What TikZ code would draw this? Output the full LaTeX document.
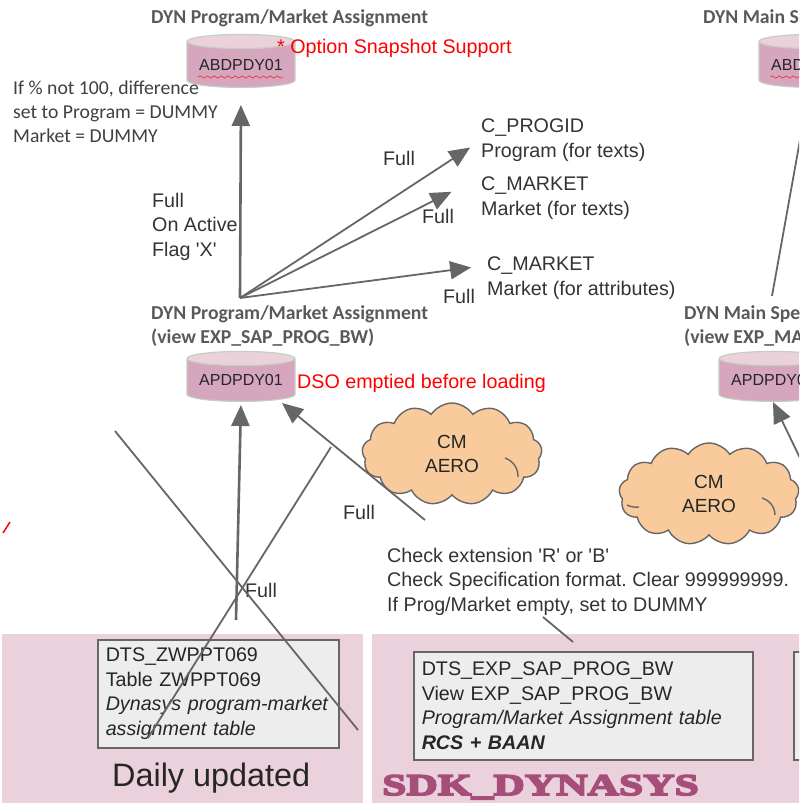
\documentclass[tikz,border=0pt]{standalone}
\usepackage{fontspec}
\setmainfont{Liberation Sans}
\newfontfamily\headfont{Carlito}
\newfontfamily\sdkfont[FakeStretch=1.45,FakeBold=6]{Liberation Serif}
\usetikzlibrary{arrows.meta,shapes.geometric,shapes.symbols,decorations.pathmorphing}
\definecolor{bandpink}{HTML}{EAD1DC}
\definecolor{cylbody}{HTML}{D5A6BD}
\definecolor{cyledge}{HTML}{C4CFC0}
\definecolor{cloudfill}{HTML}{F9CB9C}
\definecolor{linegray}{HTML}{666666}
\definecolor{sdkpink}{HTML}{A64D79}
\begin{document}
\begin{tikzpicture}[
  x=1pt, y=-1pt,
  txt/.style={anchor=north west, inner sep=0pt, align=left, text=black!80, font=\fontsize{19.7}{24.5}\selectfont},
  head/.style={anchor=north west, inner sep=0pt, align=left, text=black!65, font=\headfont\bfseries\fontsize{19.7}{24}\selectfont},
  note/.style={anchor=north west, inner sep=0pt, align=left, text=black!75, font=\headfont\fontsize{19.7}{24}\selectfont},
  redtxt/.style={anchor=north west, inner sep=0pt, text=red, font=\fontsize{19.7}{24}\selectfont},
  db/.style={cylinder, shape border rotate=90, anchor=south, aspect=0.17, draw=cyledge, line width=1.2pt, minimum width=108pt, minimum height=#1, inner sep=0pt, cylinder uses custom fill, cylinder body fill=cylbody, cylinder end fill=bandpink, font=\fontsize{16}{18}\selectfont, text=black!85},
  band/.style={fill=bandpink, draw=none, inner sep=0pt, anchor=north west},
  srcbox/.style={anchor=north west, draw=linegray, line width=1.5pt, fill=black!7, inner xsep=8pt, inner ysep=0pt, text width=#1, minimum height=108pt, align=left, text=black!85, font=\fontsize{19.7}{24.5}\selectfont},
  blob/.style={cloud, cloud puffs=13, cloud puff arc=115, aspect=1.8, draw=linegray, line width=1.4pt, fill=cloudfill, inner sep=0pt, minimum width=180pt, minimum height=102pt, align=center, text=black!85, font=\fontsize{19}{23.5}\selectfont},
  flow/.style={-{Triangle[length=21pt,width=18pt]}, draw=linegray, line width=1.8pt},
  plain/.style={draw=linegray, line width=1.8pt},
  puffline/.style={draw=linegray, line width=1.4pt}
]
\useasboundingbox (0,0) rectangle (804,803);
\clip (0,0) rectangle (799,803);

% Source bands
\node[band, minimum width=361pt, minimum height=169pt] (bandleft) at (2,634) {};
\node[band, minimum width=440pt, minimum height=169pt] (bandright) at (372,634) {};

% Databases
\node[db=53pt] (abd) at (241,88) {ABDPDY01};
\node[db=53pt] (abdmain) at (813,88) {ABDPDY01};
\node[db=50pt] (apd) at (241,402) {APDPDY01};
\node[db=50pt] (apdmain) at (773,402) {APDPDY01};
\draw[red, decorate, decoration={snake, amplitude=1.2pt, segment length=7pt}] (198,77) -- (283,77);
\draw[red, decorate, decoration={snake, amplitude=1.2pt, segment length=7pt}] (770,77) -- (803,77);

% Headings
\node[head] (headabd) at (151,9) {DYN Program/Market Assignment};
\node[head] (headmain) at (703,9) {DYN Main Spe};
\node[head] (headapd) at (151,305) {DYN Program/Market Assignment\\(view EXP\_SAP\_PROG\_BW)};
\node[head] (headapdmain) at (684,305) {DYN Main Spe\\(view EXP\_MA};

% Remarks
\node[redtxt] (snapshot) at (277,39) {* Option Snapshot Support};
\node[redtxt] (emptied) at (297,374) {DSO emptied before loading};
\node[note] (dummy) at (13,81) {If \% not 100, difference\\set to Program = DUMMY\\Market = DUMMY};
\node[txt] (active) at (152,193) {Full\\On Active\\Flag \textquotesingle X\textquotesingle};

% Targets
\node[txt] (progid) at (481,119) {C\_PROGID\\Program (for texts)};
\node[txt] (mkttext) at (481,177) {C\_MARKET\\Market (for texts)};
\node[txt] (mktattr) at (487,257) {C\_MARKET\\Market (for attributes)};

% Full labels
\node[txt] (fulla) at (383,151) {Full};
\node[txt] (fullb) at (422,209) {Full};
\node[txt] (fullc) at (443,289) {Full};
\node[txt] (fulld) at (343,505) {Full};
\node[txt] (fulle) at (245,583) {Full};

% Clouds
\node[blob] (aeroa) at (452,454) {CM\\AERO};
\node[blob] (aerob) at (709,494) {CM\\AERO};
\draw[puffline] (505,458) to[bend left=35] (518,477);
\draw[puffline] (762,498) to[bend left=35] (775,515);
\draw[puffline] (627,505) to[bend right=15] (639,507);

% Checks
\node[txt] (checks) at (387,548) {Check extension \textquotesingle R\textquotesingle{} or \textquotesingle B\textquotesingle\\Check Specification format.\ Clear 999999999.\\If Prog/Market empty, set to DUMMY};

% Source tables
\node[srcbox=225pt] (zwp) at (97,639) {DTS\_ZWPPT069\\Table ZWPPT069\\\textit{Dynasys program-market}\\\textit{assignment table}};
\node[srcbox=323pt] (exp) at (413,651) {DTS\_EXP\_SAP\_PROG\_BW\\View EXP\_SAP\_PROG\_BW\\\textit{Program/Market Assignment table}\\\textbf{\textit{RCS + BAAN}}};
\node[srcbox=80pt] (nextbox) at (793,651) {};
\node[anchor=base west, inner sep=0pt, text=black!85, font=\fontsize{32.4}{36}\selectfont] (daily) at (112,786) {Daily updated};
\node[anchor=base west, inner sep=0pt, text=sdkpink, font=\sdkfont\bfseries\fontsize{30}{32}\selectfont] (sdk) at (382,795) {SDK\_DYNASYS};

% Free ends
\coordinate (hubtop) at (240,298);
\coordinate (hublow) at (236,620);
\coordinate (crossa) at (115,431);
\coordinate (crossb) at (358,730);
\coordinate (forka) at (331,447);
\coordinate (forkb) at (148,738);
\coordinate (stuba) at (425,520);
\coordinate (stubb) at (543,617);
\coordinate (stubc) at (573,642);
\coordinate (maintop) at (772,296);
\coordinate (mainup) at (800,140);
\coordinate (mainlow) at (800,458);
\coordinate (tipapd) at (282,403);

% Arrows
\draw[flow, line width=2.6pt, shorten >=17pt] (hubtop) -- (abd.south);
\draw[flow, shorten >=13pt] (hubtop) -- (progid.west);
\draw[flow, shorten >=33pt] (hubtop) -- (mkttext.north west);
\draw[flow, shorten >=16pt] (hubtop) -- ([yshift=13pt]mktattr.west);
\draw[flow, line width=2.6pt, shorten >=3pt] (hublow) -- (apd.south);
\draw[flow] (stuba) -- (tipapd);
\draw[flow] (mainlow) -- (apdmain.south);
\draw[plain] (crossa) -- (crossb);
\draw[plain] (forka) -- (forkb);
\draw[plain] (stubb) -- (stubc);
\draw[plain] (maintop) -- (mainup);
\draw[red, line width=1.5pt] (3,533) -- (10,522);
\end{tikzpicture}
\end{document}
